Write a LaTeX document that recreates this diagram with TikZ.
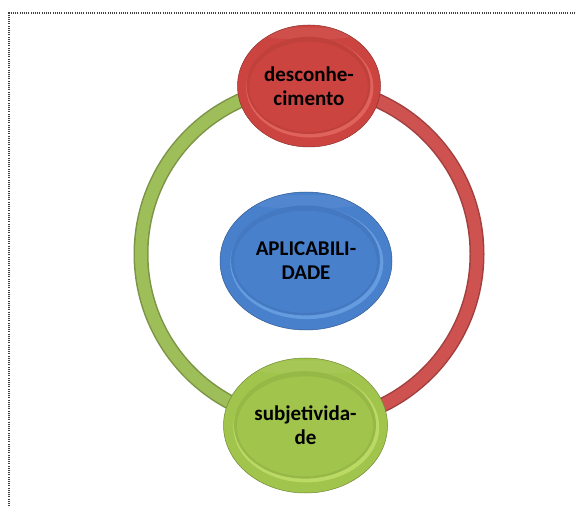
\documentclass[tikz,border=0pt]{standalone}
\usepackage{fontspec}
\setmainfont{Carlito}
\usetikzlibrary{shapes.geometric,backgrounds}

\definecolor{redbase}{RGB}{204,68,64}
\definecolor{redlight}{RGB}{236,118,112}
\definecolor{bluebase}{RGB}{72,128,204}
\definecolor{bluelight}{RGB}{120,176,236}
\definecolor{greenbase}{RGB}{160,196,76}
\definecolor{greenlight}{RGB}{206,232,118}
\definecolor{ringgreen}{RGB}{158,190,90}
\definecolor{ringred}{RGB}{206,82,80}

\tikzset{
  % bevelled ellipse: colour, light colour, width, height
  ball/.style n args={4}{
    ellipse, inner sep=0pt, minimum width=#3pt, minimum height=#4pt,
    fill=#1, draw=#1!70!black, line width=0.5pt,
    align=center, text=black,
    font=\fontsize{21}{24}\selectfont\bfseries,
    path picture={
      \fill[#1!90!white, opacity=0.6] (path picture bounding box.center) ++(0,0.43*#4pt)
        ellipse[x radius={0.36*#3pt}, y radius={0.05*#4pt}];
      \fill[#2, opacity=0.6] (path picture bounding box.center) ++(0.8pt,-1.5pt)
        ellipse[x radius={0.445*#3pt}, y radius={0.41*#4pt}];
      \fill[#1!94!black] (path picture bounding box.center) ++(-0.5pt,0.6pt)
        ellipse[x radius={0.433*#3pt}, y radius={0.398*#4pt}];
      \fill[#1] (path picture bounding box.center) ++(-0.5pt,-0.8pt)
        ellipse[x radius={0.415*#3pt}, y radius={0.37*#4pt}];
    }},
  band/.style={line width=15pt, draw=#1!78!black},
  bandface/.style={line width=12pt, draw=#1},
  frame/.style={line width=1.1pt, dash pattern=on 1.1pt off 1.1pt, draw=black!75}
}

\begin{document}
\begin{tikzpicture}[x=1pt, y=1pt]
  \useasboundingbox (0,0) rectangle (575,506);

  % dotted frame along the top and left
  \coordinate (frameR) at (575,493);
  \coordinate (frameC) at (9,493);
  \coordinate (frameB) at (9,0);
  \draw[frame] (frameR) -- (frameC) -- (frameB);

  % the three bevelled discs
  \node[ball={redbase}{redlight}{143}{122}] (top) at (309,420) {desconhe-\\cimento};
  \node[ball={bluebase}{bluelight}{172}{138}] (mid) at (306,245) {APLICABILI-\\DADE};
  \node[ball={greenbase}{greenlight}{164}{135}] (bot) at (305.5,80.5) {subjetivida-\\de};

  % the ring joining top and bottom discs
  \begin{pgfonlayer}{background}
    \draw[band=ringgreen] (top.center) arc[start angle=90, end angle=270, radius=168];
    \draw[bandface=ringgreen] (top.center) arc[start angle=90, end angle=270, radius=168];
    \draw[band=ringred] (top.center) arc[start angle=90, end angle=-90, radius=168];
    \draw[bandface=ringred] (top.center) arc[start angle=90, end angle=-90, radius=168];
  \end{pgfonlayer}
\end{tikzpicture}
\end{document}
